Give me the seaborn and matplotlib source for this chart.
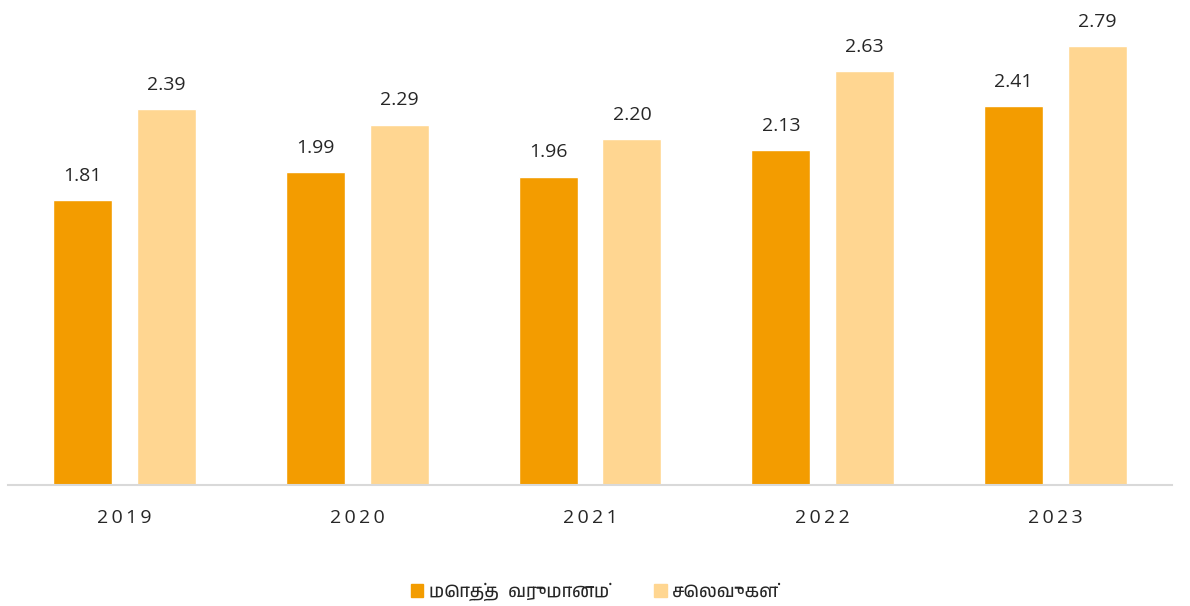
import pandas as pd
import matplotlib.pyplot as plt
import seaborn as sns
from matplotlib import font_manager
from matplotlib.patches import Patch

# data
years = ['2019', '2020', '2021', '2022', '2023']
income = [1.81, 1.99, 1.96, 2.13, 2.41]
expenses = [2.39, 2.29, 2.20, 2.63, 2.79]
series = ['மொத்த  வருமானம்', 'செலவுகள்']
colors = ['#F39C00', '#FFD691']

df = pd.DataFrame({
    'year': years * 2,
    'value': income + expenses,
    'series': [series[0]] * len(years) + [series[1]] * len(years),
})

sns.set_style("white")
# Tamil-capable font as fallback for the legend
tamil = [f.name for f in font_manager.fontManager.ttflist if 'Tamil' in f.name]
plt.rcParams['font.family'] = ['Open Sans'] + tamil[:1] + ['DejaVu Sans']

fig = plt.figure(figsize=(11.9, 6.06), dpi=100)
ax = fig.add_axes([8 / 1190, 121 / 606, 1164 / 1190, 485 / 606])

sns.barplot(data=df, x='year', y='value', hue='series', palette=colors,
            saturation=1, width=0.72, gap=0.295, ax=ax, legend=False)

for c in ax.containers:
    ax.bar_label(c, fmt='%.2f', padding=11, fontsize=14, color='#262626')

ax.set_ylim(0, 3.083)
ax.set_xlim(-0.5, 4.5)
ax.set_xlabel('')
ax.set_ylabel('')
ax.set_yticks([])
for s in ['top', 'left', 'right']:
    ax.spines[s].set_visible(False)
ax.spines['bottom'].set_color('#D9D9D9')
ax.spines['bottom'].set_linewidth(1.5)
ax.set_xticks(range(len(years)))
ax.set_xticklabels(['\u2009'.join(y) for y in years])
ax.tick_params(axis='x', length=0, pad=17, labelsize=14, labelcolor='#262626')

handles = [Patch(color=colors[0], label=series[0]), Patch(color=colors[1], label=series[1])]
fig.legend(handles=handles, loc='center', bbox_to_anchor=(0.5, 14 / 606), ncol=2,
           frameon=False, fontsize=13, handlelength=0.7, handleheight=0.7,
           handletextpad=0.3, columnspacing=2.5)

plt.savefig('out.png', dpi=100)
